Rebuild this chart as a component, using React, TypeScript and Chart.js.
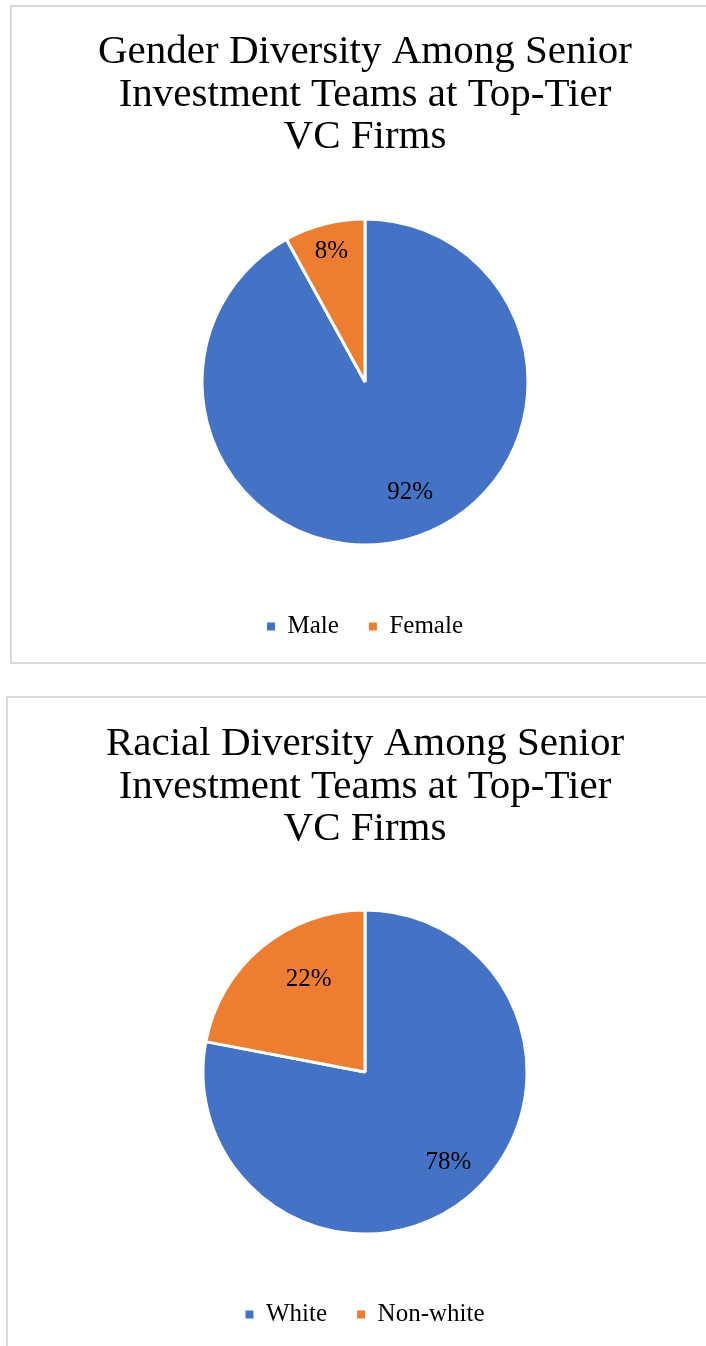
import React, { useEffect, useRef } from "react";
import { Chart, registerables } from "chart.js";

Chart.register(...registerables);

// ---- data ----
const genderTitle = ["Gender Diversity Among Senior", "Investment Teams at Top-Tier", "VC Firms"];
const genderLabels = ["Male", "Female"];
const genderValues = [92, 8];

const raceTitle = ["Racial Diversity Among Senior", "Investment Teams at Top-Tier", "VC Firms"];
const raceLabels = ["White", "Non-white"];
const raceValues = [78, 22];

const sliceColors = ["#4472C4", "#ED7D31"];

const FONT = '"Liberation Serif", "Times New Roman", Times, serif';
const TITLE_SIZE = 41;

const pieLabelPlugin = {
  id: "pieLabels",
  afterDatasetsDraw(chart: any, _args: any, opts: any) {
    const meta = chart.getDatasetMeta(0);
    const ctx = chart.ctx;
    const values = chart.data.datasets[0].data;
    const place = opts.place || [];
    ctx.save();
    ctx.font = `${opts.size}px ${FONT}`;
    ctx.fillStyle = opts.color;
    ctx.textAlign = "center";
    ctx.textBaseline = "middle";
    meta.data.forEach((arc: any, i: number) => {
      const { x, y, startAngle, endAngle, outerRadius } = arc.getProps(
        ["x", "y", "startAngle", "endAngle", "outerRadius"],
        true
      );
      const p = place[i] || { r: 0.7, da: 0 };
      const a = (startAngle + endAngle) / 2 + (p.da * Math.PI) / 180;
      ctx.fillText(
        values[i] + "%",
        x + Math.cos(a) * outerRadius * p.r,
        y + Math.sin(a) * outerRadius * p.r
      );
    });
    ctx.restore();
  },
};

interface PieBoxProps {
  box: React.CSSProperties;
  width: number;
  height: number;
  padding: { top: number; bottom: number; left: number; right: number };
  titlePad: { top: number; bottom: number };
  radius: number;
  title: string[];
  labels: string[];
  values: number[];
  place: { r: number; da: number }[];
}

function PieBox(props: PieBoxProps) {
  const ref = useRef<HTMLCanvasElement>(null);
  useEffect(() => {
    const baseGen = (Chart as any).overrides.doughnut.plugins.legend.labels.generateLabels;
    const chart = new Chart(ref.current!, {
      type: "pie",
      data: {
        labels: props.labels,
        datasets: [
          {
            data: props.values,
            backgroundColor: sliceColors,
            borderColor: "#ffffff",
            borderWidth: 3,
            radius: props.radius,
          } as any,
        ],
      },
      options: {
        responsive: false,
        animation: false,
        events: [],
        layout: { padding: props.padding },
        plugins: {
          title: {
            display: true,
            text: props.title,
            color: "#000000",
            font: { family: FONT, size: TITLE_SIZE, weight: "normal", lineHeight: 42.5 / TITLE_SIZE },
            padding: props.titlePad,
          },
          legend: {
            display: true,
            position: "bottom",
            labels: {
              color: "#000000",
              font: { family: FONT, size: 25 },
              boxWidth: 8,
              boxHeight: 8,
              padding: 30,
              generateLabels: (c: any) =>
                baseGen(c).map((l: any) => ({ ...l, lineWidth: 0, strokeStyle: "rgba(0,0,0,0)" })),
            },
          },
          tooltip: { enabled: false },
          pieLabels: { size: 25, color: "#000000", place: props.place },
        } as any,
      },
      plugins: [pieLabelPlugin],
    });
    return () => chart.destroy();
  }, []);
  return (
    <div
      style={{
        position: "absolute",
        border: "2px solid #d9d9d9",
        background: "#ffffff",
        ...props.box,
      }}
    >
      <canvas
        ref={ref}
        width={props.width}
        height={props.height}
        style={{ display: "block", width: props.width, height: props.height }}
      />
    </div>
  );
}

export default function App() {
  return (
    <div
      style={{
        position: "absolute",
        left: 0,
        top: 0,
        width: 706,
        height: 1346,
        overflow: "hidden",
        background: "#ffffff",
      }}
    >
      <PieBox
        box={{ left: 10, top: 5 }}
        width={706}
        height={655}
        padding={{ top: 0, bottom: 13, left: 0, right: 0 }}
        titlePad={{ top: 24, bottom: 21.5 }}
        radius={163}
        title={genderTitle}
        labels={genderLabels}
        values={genderValues}
        place={[
          { r: 0.735, da: -7.8 },
          { r: 0.83, da: 0 },
        ]}
      />
      <PieBox
        box={{ left: 6, top: 696 }}
        width={706}
        height={660}
        padding={{ top: 0, bottom: 21, left: 8, right: 0 }}
        titlePad={{ top: 25, bottom: 21.5 }}
        radius={162}
        title={raceTitle}
        labels={raceLabels}
        values={raceValues}
        place={[
          { r: 0.76, da: -3 },
          { r: 0.67, da: 8.3 },
        ]}
      />
    </div>
  );
}
